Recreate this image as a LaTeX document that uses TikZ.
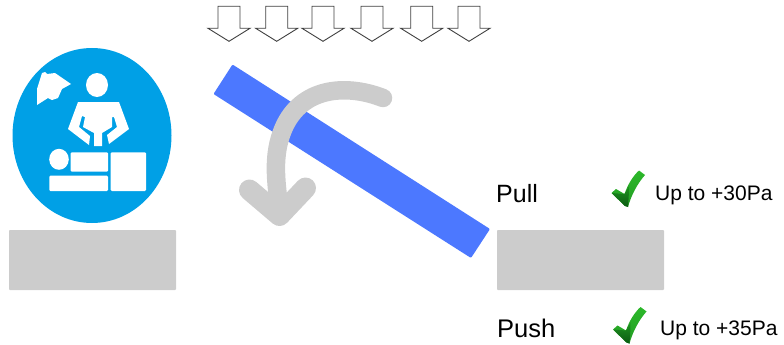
\documentclass[tikz,border=0pt]{standalone}
\usepackage{fontspec}
\setmainfont{Liberation Sans}
\definecolor{skyb}{HTML}{00A0E6}
\definecolor{barb}{HTML}{4C78FF}
\definecolor{gry}{HTML}{CCCCCC}
\definecolor{chk}{HTML}{2CB82A}
\definecolor{chkd}{HTML}{0B5A12}
\tikzset{
  base/.style={fill=gry,rounded corners=0.8pt},
  wht/.style={fill=white,rounded corners=1.2pt},
  dn/.pic={\draw[draw=black!75,fill=white,line width=0.9pt,line join=miter]
     (-11,-22)--(11,-22)--(11,0)--(21,0)--(0,13)--(-21,0)--(-11,0)--cycle;},
  chkm/.pic={
    \shade[top color=chk,bottom color=chk!70!chkd] (-16.5,5)--(-12,1)--(-3.5,6) .. controls (0,-4) and (5,-12) .. (11,-17.5)--(17,-13) .. controls (9,-4) and (3,8) .. (0,19)--(-3,18)--cycle;
    \shade[top color=chk!60!chkd,bottom color=chkd] (-16.5,5)--(-3.5,6)--(1,-2) .. controls (1,5) and (0.5,12) .. (0,19)--(-3,18)--cycle;
  },
  lab/.style={inner sep=0pt,anchor=base west}
}
\begin{document}
\begin{tikzpicture}[x=1pt,y=-1pt]
\useasboundingbox (0,0) rectangle (784,345);
% person disc
\fill[skyb] (92,135.5) ellipse [x radius=79.5,y radius=87.5];
\fill[white] (97,85) ellipse [x radius=11,y radius=12];
\fill[white] (78,102)--(119,102)--(129,129)--(109,144)--(107,135)--(117,127)--(114,117)--(112,117)--(112,127)--(102,133)--(102,146)--(94,146)--(94,133)--(83,127)--(85,117)--(82,116)--(79,127)--(90,136)--(89,145)--(68,129)--cycle;
\fill[white] (42,73)--(45,72)--(47,74)--(55,73)--(71,84)--(62,89)--(58,98)--(52,100)--(48,98)--(37,105)--(37,89)--cycle;
\fill[white] (59,159.3) ellipse [x radius=9.8,y radius=10.5];
\path[wht] (70.7,152.3) rectangle (108,171.7);
\path[wht] (49.3,175.7) rectangle (108,191);
\path[wht] (110.7,152.3) rectangle (146,191);
% supports
\path[base] (9,230) rectangle (176,290);
\path[base] (497,230) rectangle (664,290);
% arrows
\foreach \xx in {229,276.7,323,372,421.7,469} {\pic at (\xx,28.3) {dn};}
% bar
\fill[barb,rounded corners=1pt] (232.5,64.5)--(490,229)--(471,258)--(213.5,94)--cycle;
% curved arrow
\draw[gry,line width=18.5pt,line cap=round] (383,98) .. controls (350,85) and (305,85) .. (285,125) .. controls (273,150) and (275,175) .. (279,205);
\draw[gry,line width=21pt,line cap=round,line join=round] (249.5,190)--(279.5,215.5)--(305.5,188);
% labels
\node[lab,font=\fontsize{25}{28}\selectfont] (pull) at (496,202.7) {Pull};
\node[lab,font=\fontsize{25.5}{28}\selectfont] (push) at (497,337.7) {Push};
\node[lab,font=\fontsize{21}{24}\selectfont] (t1) at (655,200.7) {Up to +30Pa};
\node[lab,font=\fontsize{21}{24}\selectfont] (t2) at (660,335.7) {Up to +35Pa};
\pic at (628,188) {chkm};
\pic at (629.5,324.5) {chkm};
\end{tikzpicture}
\end{document}
